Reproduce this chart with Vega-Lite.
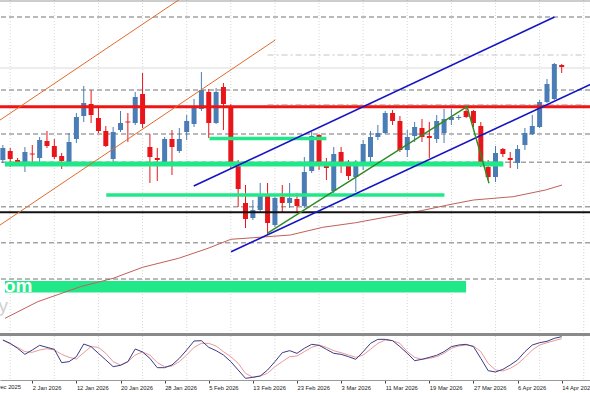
{
  "$schema": "https://vega.github.io/schema/vega-lite/v6.json",
  "width": 590,
  "height": 380,
  "autosize": {"type": "none"},
  "padding": {"left": 0, "top": 0, "right": 0, "bottom": 13},
  "background": "white",
  "config": {"view": {"stroke": null}},
  "datasets": {
    "bars": [
      {"i":-1,"o":173,"h":188,"l":170,"c":185,"k":90.9,"d":90.9},
      {"i":0,"o":182,"h":185,"l":166,"c":174,"k":83.3,"d":81.8},
      {"i":1,"o":173,"h":175,"l":167,"c":171,"k":72.0,"d":74.2},
      {"i":2,"o":170,"h":186,"l":161,"c":181,"k":58.3,"d":64.4},
      {"i":3,"o":179.5,"h":188,"l":171,"c":178.5,"k":68.2,"d":62.9},
      {"i":4,"o":175,"h":196,"l":169,"c":193,"k":78.8,"d":68.2},
      {"i":5,"o":192,"h":202,"l":185,"c":187,"k":74.2,"d":71.2},
      {"i":6,"o":187,"h":194,"l":174,"c":176,"k":69.7,"d":68.2},
      {"i":7,"o":177,"h":180,"l":164,"c":172,"k":39.4,"d":58.3},
      {"i":8,"o":170,"h":200,"l":169,"c":191,"k":41.7,"d":51.5},
      {"i":9,"o":194,"h":220,"l":190,"c":216,"k":53.0,"d":47.7},
      {"i":10,"o":217,"h":247,"l":211,"c":230,"k":81.8,"d":62.1},
      {"i":11,"o":229,"h":243,"l":210,"c":218,"k":75.8,"d":75.8},
      {"i":12,"o":215,"h":225,"l":200,"c":202,"k":60.6,"d":74.2},
      {"i":13,"o":202,"h":207,"l":186,"c":187,"k":45.5,"d":60.6},
      {"i":14,"o":174,"h":206,"l":171,"c":201,"k":30.3,"d":41.7},
      {"i":15,"o":203,"h":222,"l":201,"c":210,"k":33.3,"d":34.1},
      {"i":16,"o":211.5,"h":220,"l":191,"c":210.5,"k":41.7,"d":41.7},
      {"i":17,"o":210,"h":241,"l":208,"c":236,"k":70.5,"d":56.8},
      {"i":18,"o":239,"h":260,"l":205,"c":209,"k":63.6,"d":63.6},
      {"i":19,"o":186,"h":199,"l":150,"c":176,"k":49.2,"d":56.8},
      {"i":20,"o":175,"h":185,"l":152,"c":173,"k":28.0,"d":39.4},
      {"i":21,"o":168,"h":196,"l":167,"c":194,"k":28.0,"d":30.3},
      {"i":22,"o":194,"h":203,"l":158,"c":186,"k":34.1,"d":31.8},
      {"i":23,"o":182,"h":205,"l":180,"c":194,"k":49.2,"d":41.7},
      {"i":24,"o":201,"h":218,"l":193,"c":212,"k":68.2,"d":56.8},
      {"i":25,"o":209,"h":234,"l":206,"c":226,"k":88.6,"d":74.2},
      {"i":26,"o":224,"h":261,"l":222,"c":243,"k":89.4,"d":83.3},
      {"i":27,"o":241,"h":244,"l":195,"c":210,"k":74.2,"d":83.3},
      {"i":28,"o":210,"h":245,"l":209,"c":241,"k":66.7,"d":77.3},
      {"i":29,"o":246,"h":250,"l":203,"c":229,"k":56.8,"d":64.4},
      {"i":30,"o":226,"h":229,"l":165,"c":170,"k":41.7,"d":53.0},
      {"i":31,"o":171,"h":173,"l":126,"c":144,"k":22.7,"d":37.9},
      {"i":32,"o":130,"h":148,"l":105,"c":114,"k":3.8,"d":15.2},
      {"i":33,"o":115,"h":133,"l":113,"c":123,"k":6.1,"d":6.1},
      {"i":34,"o":123,"h":150,"l":121,"c":138,"k":9.1,"d":9.1},
      {"i":35,"o":139,"h":150,"l":98,"c":110,"k":22.7,"d":15.2},
      {"i":36,"o":108,"h":139,"l":106,"c":135,"k":41.7,"d":30.3},
      {"i":37,"o":136,"h":148,"l":121,"c":130,"k":62.1,"d":41.7},
      {"i":38,"o":130,"h":150,"l":125,"c":135,"k":66.7,"d":53.0},
      {"i":39,"o":134,"h":140,"l":120,"c":127,"k":60.6,"d":54.5},
      {"i":40,"o":127,"h":176,"l":125,"c":161,"k":72.0,"d":64.4},
      {"i":41,"o":162,"h":201,"l":160,"c":197,"k":81.1,"d":74.2},
      {"i":42,"o":198,"h":199,"l":163,"c":167,"k":78.8,"d":79.5},
      {"i":43,"o":168,"h":175,"l":153,"c":165,"k":69.7,"d":74.2},
      {"i":44,"o":142,"h":186,"l":140,"c":179,"k":60.6,"d":66.7},
      {"i":45,"o":181,"h":186,"l":160,"c":170,"k":58.3,"d":62.1},
      {"i":46,"o":169,"h":173,"l":153,"c":157,"k":53.0,"d":56.8},
      {"i":47,"o":156,"h":173,"l":141,"c":167,"k":47.0,"d":51.5},
      {"i":48,"o":167,"h":193,"l":163,"c":189,"k":64.4,"d":56.8},
      {"i":49,"o":176,"h":202,"l":171,"c":196,"k":83.3,"d":69.7},
      {"i":50,"o":196,"h":208,"l":193,"c":200,"k":92.4,"d":83.3},
      {"i":51,"o":200,"h":222,"l":199,"c":220,"k":92.4,"d":90.9},
      {"i":52,"o":220,"h":223,"l":208,"c":212,"k":89.4,"d":89.4},
      {"i":53,"o":212,"h":217,"l":181,"c":183,"k":75.8,"d":83.3},
      {"i":54,"o":183,"h":203,"l":176,"c":196,"k":60.6,"d":64.4},
      {"i":55,"o":197,"h":211,"l":191,"c":206,"k":43.9,"d":51.5},
      {"i":56,"o":205,"h":214,"l":191,"c":196,"k":47.0,"d":47.0},
      {"i":57,"o":197,"h":211,"l":175,"c":195,"k":51.5,"d":49.2},
      {"i":58,"o":194,"h":218,"l":190,"c":212,"k":56.1,"d":53.0},
      {"i":59,"o":200,"h":224,"l":190,"c":214,"k":64.4,"d":60.6},
      {"i":60,"o":213,"h":224,"l":208,"c":216,"k":75.8,"d":72.0},
      {"i":61,"o":215,"h":218,"l":213,"c":216,"k":79.5,"d":77.3},
      {"i":62,"o":222,"h":225,"l":215,"c":216,"k":81.1,"d":79.5},
      {"i":63,"o":222,"h":223,"l":206,"c":210,"k":75.8,"d":77.3},
      {"i":64,"o":207,"h":211,"l":166,"c":168,"k":49.2,"d":64.4},
      {"i":65,"o":166,"h":173,"l":153,"c":156,"k":21.2,"d":37.9},
      {"i":66,"o":156,"h":187,"l":151,"c":180,"k":18.2,"d":22.7},
      {"i":67,"o":184,"h":185,"l":176,"c":179,"k":24.2,"d":20.5},
      {"i":68,"o":175,"h":181,"l":165,"c":173,"k":34.1,"d":26.5},
      {"i":69,"o":170,"h":188,"l":164,"c":184,"k":45.5,"d":36.4},
      {"i":70,"o":188,"h":205,"l":183,"c":200,"k":64.4,"d":51.5},
      {"i":71,"o":199,"h":218,"l":198,"c":207,"k":79.5,"d":68.2},
      {"i":72,"o":206,"h":233,"l":205,"c":231,"k":84.8,"d":79.5},
      {"i":73,"o":231,"h":254,"l":230,"c":249,"k":87.9,"d":84.8},
      {"i":74,"o":234,"h":270,"l":233,"c":269,"k":94.7,"d":89.4},
      {"i":75,"o":268,"h":269,"l":260,"c":266,"k":98.5,"d":93.9}
    ],
    "grid": [{"i":0},{"i":6},{"i":12},{"i":18},{"i":24},{"i":30},{"i":36},{"i":42},{"i":48},{"i":54},{"i":60},{"i":66},{"i":72},{"i":78}],
    "levels": [{"p":316},{"p":243},{"p":199},{"p":170.7},{"p":126.3},{"p":90.3},{"p":54}],
    "ma": [
      {"i":-0.71,"p":14.7},{"i":3.74,"p":31.3},{"i":9.55,"p":46.3},{"i":14.0,"p":54.7},
      {"i":18.0,"p":65.7},{"i":22.9,"p":74.7},{"i":26.9,"p":84.7},{"i":30.0,"p":93.7},
      {"i":33.1,"p":95.3},{"i":38.1,"p":98},{"i":42.5,"p":105.7},{"i":47.0,"p":110.3},
      {"i":51.4,"p":116.3},{"i":55.9,"p":122.3},{"i":59.5,"p":128},{"i":63.0,"p":133},
      {"i":68.4,"p":136.3},{"i":72.8,"p":143},{"i":75.05,"p":148}
    ],
    "orange": [
      {"g":"upper","i":-3.38,"p":203.1},{"g":"upper","i":24.92,"p":343},
      {"g":"lower","i":-3.38,"p":98.1},{"g":"lower","i":36.06,"p":293.1}
    ],
    "blue": [
      {"g":"upper","i":24.96,"p":147},{"g":"upper","i":74.02,"p":316},
      {"g":"lower","i":30.04,"p":81.3},{"g":"lower","i":80.84,"p":255.2}
    ],
    "green": [
      {"i":34.95,"p":99.7},{"i":62.13,"p":226.3},{"i":65.11,"p":149.7}
    ]
  },
  "layer": [
    {
      "data": {"name": "grid"},
      "mark": {"type": "rule", "color": "#d6d6d6", "strokeWidth": 1, "strokeDash": [1, 2]},
      "encoding": {
        "x": {
          "field": "i", "type": "quantitative", "title": null,
          "scale": {"domain": [-0.709, 78.17], "nice": false, "zero": false},
          "axis": {
            "title": null,
            "values": [-3, 3, 9, 15, 21, 27, 33, 39, 45, 51, 57, 63, 69, 75],
            "labelExpr": "['23 Dec 2025','2 Jan 2026','12 Jan 2026','20 Jan 2026','28 Jan 2026','5 Feb 2026','13 Feb 2026','23 Feb 2026','3 Mar 2026','11 Mar 2026','19 Mar 2026','27 Mar 2026','6 Apr 2026','14 Apr 2026'][(datum.value + 3) / 6]",
            "labelAlign": "left",
            "labelFont": "Liberation Sans",
            "labelFontSize": 5.8,
            "labelColor": "#1a1a1a",
            "labelPadding": 1.5,
            "labelOverlap": false,
            "labelFlush": false,
            "labelBound": false,
            "grid": false,
            "ticks": true,
            "tickSize": 3,
            "tickColor": "#444444",
            "domain": true,
            "domainColor": "#9a9a9a"
          }
        }
      }
    },
    {
      "layer": [
        {
          "data": {"name": "levels"},
          "mark": {"type": "rule", "color": "#a3a3a3", "strokeWidth": 1.4, "strokeDash": [5, 3]},
          "encoding": {"y": {"field": "p", "type": "quantitative", "scale": {"domain": [0, 333], "range": [333, 0], "nice": false, "zero": false}, "axis": null}}
        },
        {
          "data": {"values": [{"p": 265}]},
          "mark": {"type": "rule", "color": "#dadada", "strokeWidth": 1},
          "encoding": {"y": {"field": "p", "type": "quantitative", "axis": null}}
        },
        {
          "data": {"values": [{"p": 278, "a": 35, "b": 78.2}, {"p": 228.5, "a": 35, "b": 78.2}]},
          "mark": {"type": "rule", "color": "#c9c4bc", "strokeWidth": 1, "strokeDash": [6, 3, 2, 3]},
          "encoding": {
            "x": {"field": "a", "type": "quantitative", "title": null},
            "x2": {"field": "b"},
            "y": {"field": "p", "type": "quantitative", "axis": null}
          }
        },
        {
          "data": {"values": [{"p": 332}]},
          "mark": {"type": "rule", "color": "#9a9a9a", "strokeWidth": 1},
          "encoding": {"y": {"field": "p", "type": "quantitative", "axis": null}}
        },
        {
          "data": {"values": [{"a": -0.71, "b": 62, "p": 40.5, "q": 52}]},
          "mark": {"type": "rect", "color": "#20e888"},
          "encoding": {
            "x": {"field": "a", "type": "quantitative", "title": null},
            "x2": {"field": "b"},
            "y": {"field": "p", "type": "quantitative", "axis": null},
            "y2": {"field": "q"}
          }
        },
        {
          "data": {"values": [{"t": "www.com", "i": 3.03, "p": 40.8}]},
          "mark": {"type": "text", "align": "right", "baseline": "alphabetic", "font": "Liberation Sans", "fontSize": 19, "fontWeight": "bold", "color": "white", "clip": true},
          "encoding": {
            "x": {"field": "i", "type": "quantitative", "title": null},
            "y": {"field": "p", "type": "quantitative", "axis": null},
            "text": {"field": "t"}
          }
        },
        {
          "data": {"values": [{"t": "Daily", "i": -0.3, "p": 21.5}]},
          "mark": {"type": "text", "align": "right", "baseline": "alphabetic", "font": "Liberation Sans", "fontSize": 19, "color": "#d0d0d0", "clip": true},
          "encoding": {
            "x": {"field": "i", "type": "quantitative", "title": null},
            "y": {"field": "p", "type": "quantitative", "axis": null},
            "text": {"field": "t"}
          }
        },
        {
          "data": {"name": "ma"},
          "mark": {"type": "line", "color": "#c0605a", "strokeWidth": 1, "clip": true},
          "encoding": {
            "x": {"field": "i", "type": "quantitative", "title": null},
            "y": {"field": "p", "type": "quantitative", "axis": null}
          }
        },
        {
          "data": {"name": "bars"},
          "mark": {"type": "rule", "strokeWidth": 1, "clip": true},
          "encoding": {
            "x": {"field": "i", "type": "quantitative", "title": null},
            "y": {"field": "l", "type": "quantitative", "axis": null},
            "y2": {"field": "h"},
            "color": {"condition": {"test": "datum.c < datum.o", "value": "#e8161b"}, "value": "#4a7db5"}
          }
        },
        {
          "data": {"name": "bars"},
          "mark": {"type": "bar", "width": 5, "clip": true},
          "encoding": {
            "x": {"field": "i", "type": "quantitative", "title": null},
            "y": {"field": "o", "type": "quantitative", "axis": null},
            "y2": {"field": "c"},
            "color": {"condition": {"test": "datum.c < datum.o", "value": "#e8161b"}, "value": "#4a7db5"}
          }
        },
        {
          "data": {"values": [{"a": -0.71, "b": 67.07, "p": 169}]},
          "mark": {"type": "rule", "color": "#20e888", "strokeWidth": 5},
          "encoding": {
            "x": {"field": "a", "type": "quantitative", "title": null},
            "x2": {"field": "b"},
            "y": {"field": "p", "type": "quantitative", "axis": null}
          }
        },
        {
          "data": {"values": [{"a": 27.1, "b": 43.0, "p": 194.5}, {"a": 13.06, "b": 59.05, "p": 138}]},
          "mark": {"type": "rule", "color": "#20e888", "strokeWidth": 3.5},
          "encoding": {
            "x": {"field": "a", "type": "quantitative", "title": null},
            "x2": {"field": "b"},
            "y": {"field": "p", "type": "quantitative", "axis": null}
          }
        },
        {
          "data": {"values": [{"p": 226.3}]},
          "mark": {"type": "rule", "color": "#ee1515", "strokeWidth": 3},
          "encoding": {"y": {"field": "p", "type": "quantitative", "axis": null}}
        },
        {
          "data": {"values": [{"p": 120.7}]},
          "mark": {"type": "rule", "color": "#111111", "strokeWidth": 2},
          "encoding": {"y": {"field": "p", "type": "quantitative", "axis": null}}
        },
        {
          "data": {"name": "orange"},
          "mark": {"type": "line", "color": "#e06a2a", "strokeWidth": 1, "clip": true},
          "encoding": {
            "x": {"field": "i", "type": "quantitative", "title": null},
            "y": {"field": "p", "type": "quantitative", "axis": null},
            "detail": {"field": "g"}
          }
        },
        {
          "data": {"name": "blue"},
          "mark": {"type": "line", "color": "#1414c4", "strokeWidth": 1.6, "clip": true},
          "encoding": {
            "x": {"field": "i", "type": "quantitative", "title": null},
            "y": {"field": "p", "type": "quantitative", "axis": null},
            "detail": {"field": "g"}
          }
        },
        {
          "data": {"name": "green"},
          "mark": {"type": "line", "color": "#2f8a22", "strokeWidth": 1.4, "clip": true},
          "encoding": {
            "x": {"field": "i", "type": "quantitative", "title": null},
            "y": {"field": "p", "type": "quantitative", "axis": null}
          }
        }
      ]
    },
    {
      "layer": [
        {
          "data": {"values": [{"v": 103.4}]},
          "mark": {"type": "rule", "color": "#8a8a8a", "strokeWidth": 3},
          "encoding": {"y": {"field": "v", "type": "quantitative", "scale": {"domain": [0, 100], "range": [380, 336], "nice": false, "zero": false}, "axis": null}}
        },
        {
          "data": {"values": [{"t": "23 Dec 2025", "i": -3, "v": -10.2}]},
          "mark": {"type": "text", "align": "left", "baseline": "top", "font": "Liberation Sans", "fontSize": 5.8, "color": "#1a1a1a"},
          "encoding": {
            "x": {"field": "i", "type": "quantitative", "title": null},
            "y": {"field": "v", "type": "quantitative", "axis": null},
            "text": {"field": "t"}
          }
        },
        {
          "data": {"name": "bars"},
          "mark": {"type": "line", "color": "#e89a96", "strokeWidth": 1, "clip": true},
          "encoding": {
            "x": {"field": "i", "type": "quantitative", "title": null},
            "y": {"field": "d", "type": "quantitative", "axis": null}
          }
        },
        {
          "data": {"name": "bars"},
          "mark": {"type": "line", "color": "#3a3a86", "strokeWidth": 1, "clip": true},
          "encoding": {
            "x": {"field": "i", "type": "quantitative", "title": null},
            "y": {"field": "k", "type": "quantitative", "axis": null}
          }
        }
      ]
    }
  ],
  "resolve": {"scale": {"y": "independent"}}
}
